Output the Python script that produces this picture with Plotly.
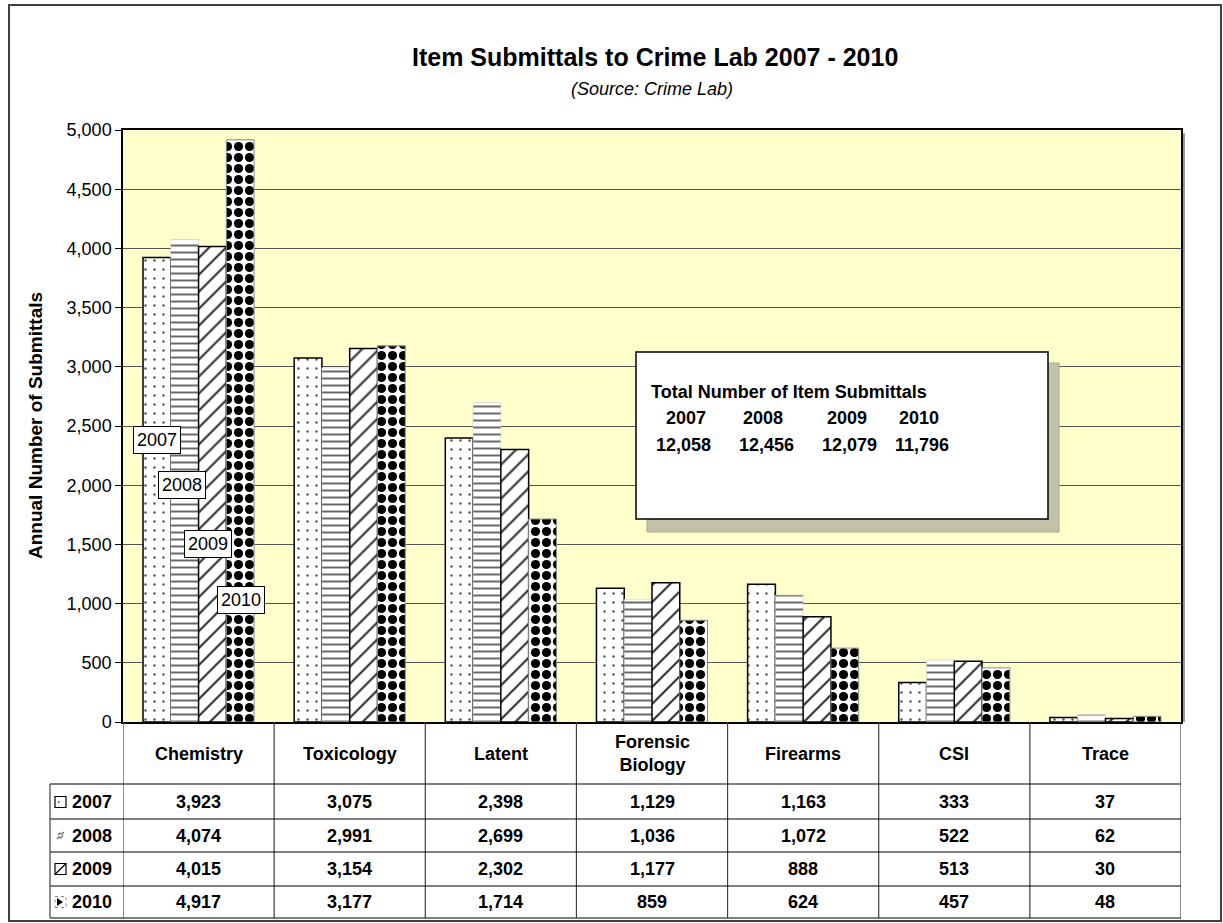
import plotly.graph_objects as go

categories = ["Chemistry", "Toxicology", "Latent", "Forensic<br>Biology", "Firearms", "CSI", "Trace"]
years = ["2007", "2008", "2009", "2010"]
v2007 = [3923, 3075, 2398, 1129, 1163, 333, 37]
v2008 = [4074, 2991, 2699, 1036, 1072, 522, 62]
v2009 = [4015, 3154, 2302, 1177, 888, 513, 30]
v2010 = [4917, 3177, 1714, 859, 624, 457, 48]
series = [v2007, v2008, v2009, v2010]
totals = [sum(s) for s in series]
# positions of the in-bar year labels on the Chemistry group (value units)
year_label_y = [2380, 2000, 1500, 1030]

FONT = "Arial, Liberation Sans, sans-serif"
L, R, T, B = 123, 1181, 130, 722
W = R - L
H = B - T


def px(x):
    return (x - L) / W


def py(y):
    return (B - y) / H


styles = [
    dict(pattern=dict(shape=".", fgcolor="#555555", bgcolor="white", fgopacity=1, size=9, solidity=0.06),
         line=dict(color="black", width=1.5)),
    dict(pattern=dict(shape="-", fgcolor="#666666", bgcolor="white", fgopacity=1, size=7, solidity=0.28),
         line=dict(color="#cccccc", width=0.6)),
    dict(pattern=dict(shape="/", fgcolor="#333333", bgcolor="white", fgopacity=1, size=12, solidity=0.18),
         line=dict(color="black", width=1.5)),
    dict(pattern=dict(shape=".", fgcolor="black", bgcolor="white", fgopacity=1, size=11, solidity=0.55),
         line=dict(color="#888888", width=1)),
]

fig = go.Figure()
for yr, vals, st in zip(years, series, styles):
    fig.add_trace(go.Bar(
        name=yr, x=categories, y=vals,
        marker=dict(color="white", pattern=st["pattern"], line=st["line"]),
        showlegend=False,
    ))

shapes = []
annotations = []


def note(x, y, text, size=18, xanchor="center", xref="paper", yref="paper", **kw):
    d = dict(xref=xref, yref=yref, x=x, y=y, text=text, showarrow=False, xanchor=xanchor, yanchor="middle",
             font=dict(family=FONT, size=size, color="black"))
    d.update(kw)
    annotations.append(d)


# outer border
shapes.append(dict(type="rect", xref="paper", yref="paper", x0=px(9), x1=px(1221), y0=py(921), y1=py(5),
                   line=dict(color="#404040", width=2), layer="below"))
# plot-area shadow
shapes.append(dict(type="line", xref="paper", yref="paper", x0=px(1184), x1=px(1184), y0=py(722), y1=py(133),
                   line=dict(color="#999999", width=2)))

# totals box shadow and box
shapes.append(dict(type="rect", xref="paper", yref="paper", x0=px(647), x1=px(1059), y0=py(532), y1=py(363),
                   fillcolor="#C2C2A8", line=dict(color="#A8A890", width=1)))
shapes.append(dict(type="rect", xref="paper", yref="paper", x0=px(636), x1=px(1048), y0=py(519), y1=py(352),
                   fillcolor="white", line=dict(color="black", width=1.5)))
note(px(649), py(392), "<b>Total Number of Item Submittals</b>", xanchor="left")
year_x = [686, 763, 847, 919]
tot_x = [683, 766, 849, 922]
for yr, xx, tt, tx in zip(years, year_x, totals, tot_x):
    note(px(xx), py(418), f"<b>{yr}</b>")
    note(px(tx), py(445), f"<b>{tt:,}</b>")

# year labels on Chemistry bars
xshifts = [-42, -17, 9, 42]
for yr, ly, xs in zip(years, year_label_y, xshifts):
    note(categories[0], ly, yr, xref="x", yref="y", xshift=xs, bgcolor="white",
         bordercolor="black", borderwidth=1, borderpad=3)

# data table lines
row_lines = [784, 819, 852, 886, 918]
for i in range(len(categories) + 1):
    shapes.append(dict(type="line", xref="x", yref="paper", x0=i - 0.5, x1=i - 0.5, y0=py(722), y1=py(918),
                       line=dict(color="#404040", width=1.2)))
for ry in row_lines:
    shapes.append(dict(type="line", xref="paper", yref="paper", x0=px(50), x1=1, y0=py(ry), y1=py(ry),
                       line=dict(color="black", width=1.2)))
shapes.append(dict(type="line", xref="paper", yref="paper", x0=px(50), x1=px(50), y0=py(784), y1=py(918),
                   line=dict(color="#404040", width=1.2)))

# header texts
for c in categories:
    note(c, py(754), f"<b>{c}</b>", xref="x")
# rows
row_centers = [802, 836, 869, 902]
for yr, vals, yc in zip(years, series, row_centers):
    note(px(70), py(yc), f"<b>{yr}</b>", xanchor="left")
    for c, v in zip(categories, vals):
        note(c, py(yc), f"<b>{v:,}</b>", xref="x")

# legend key icons
for k, yc in enumerate(row_centers):
    x0, x1, y0, y1 = 55, 66, yc - 5.5, yc + 5.5
    if k != 1:
        shapes.append(dict(type="rect", xref="paper", yref="paper", x0=px(x0), x1=px(x1), y0=py(y1), y1=py(y0),
                           line=dict(color="black", width=1.2), fillcolor="white"))
    if k == 0:
        shapes.append(dict(type="rect", xref="paper", yref="paper", x0=px(58), x1=px(59.5), y0=py(yc + 0.8),
                           y1=py(yc - 0.8), line=dict(width=0), fillcolor="#333333"))
    elif k == 1:
        shapes.append(dict(type="path", xref="paper", yref="paper",
                           path=(f"M {px(57)},{py(yc + 3)} L {px(59)},{py(yc + 1)} L {px(61)},{py(yc + 2)} "
                                 f"L {px(63)},{py(yc - 1)} M {px(58)},{py(yc - 1)} L {px(60)},{py(yc - 3)} "
                                 f"L {px(62)},{py(yc - 2)} L {px(64)},{py(yc - 4)}"),
                           line=dict(color="#666666", width=1.2)))
    elif k == 2:
        shapes.append(dict(type="line", xref="paper", yref="paper", x0=px(x0), x1=px(x1), y0=py(y1),
                           y1=py(y0), line=dict(color="black", width=1.2)))
    else:
        shapes[-1]["line"] = dict(color="#888888", width=1, dash="dot")
        shapes.append(dict(type="path", xref="paper", yref="paper",
                           path=f"M {px(57)},{py(yc - 4)} L {px(63)},{py(yc)} L {px(57)},{py(yc + 4)} Z",
                           fillcolor="black", line=dict(width=0)))

# titles
note(px(655), py(57), "<b>Item Submittals to Crime Lab 2007 - 2010</b>", size=25)
note(px(652), py(89), "<i>(Source: Crime Lab)</i>", size=18)
note(px(35), py(426), "<b>Annual Number of Submittals</b>", size=19, textangle=-90)

fig.update_layout(
    width=1223, height=923,
    margin=dict(l=L, r=1223 - R, t=T, b=923 - B, pad=0),
    paper_bgcolor="white", plot_bgcolor="#FFFFCC",
    barmode="group", bargap=0.265, bargroupgap=0,
    font=dict(family=FONT, size=18, color="black"),
    xaxis=dict(showticklabels=False, ticks="", showgrid=False, showline=True, linecolor="black", linewidth=1.5,
               mirror=True, range=[-0.5, 6.5]),
    yaxis=dict(range=[0, 5000], dtick=500, tickformat=",d", ticks="outside", ticklen=6, tickcolor="black",
               showgrid=True, gridcolor="#555555", gridwidth=1, showline=True, linecolor="black", linewidth=1.5,
               mirror=True, zeroline=False, tickfont=dict(family=FONT, size=18, color="black")),
    shapes=shapes, annotations=annotations,
)

fig.write_html("out.html", config={"displayModeBar": False},
               post_script="document.body.style.margin='0px';document.body.style.overflow='hidden';")
